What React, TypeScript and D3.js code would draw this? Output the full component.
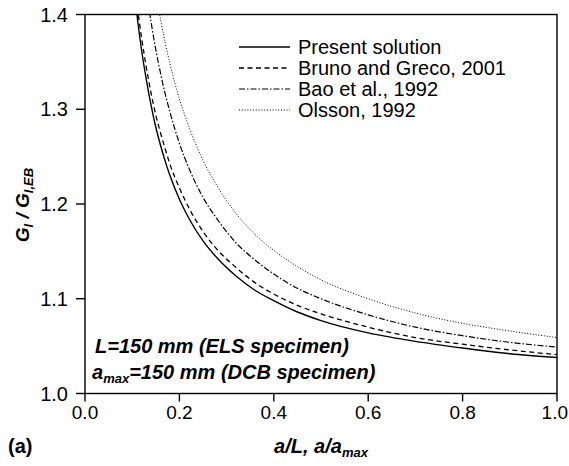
import React from "react";
import * as d3 from "d3";

const xs = [0.105, 0.11, 0.12, 0.13, 0.14, 0.15, 0.16, 0.17, 0.18, 0.2, 0.22, 0.25, 0.28, 0.32, 0.36, 0.4, 0.45, 0.5, 0.6, 0.7, 0.8, 0.9, 1.0];
const presentY = [1.422, 1.4, 1.362, 1.331, 1.304, 1.281, 1.262, 1.245, 1.23, 1.205, 1.185, 1.161, 1.143, 1.124, 1.109, 1.098, 1.086, 1.077, 1.064, 1.055, 1.048, 1.042, 1.038];
const brunoY = [1.435, 1.412, 1.375, 1.344, 1.317, 1.294, 1.275, 1.258, 1.242, 1.217, 1.196, 1.171, 1.152, 1.133, 1.117, 1.105, 1.093, 1.084, 1.07, 1.059, 1.052, 1.046, 1.041];
const baoX = [0.13, 0.14, 0.15, 0.16, 0.17, 0.18, 0.2, 0.22, 0.25, 0.28, 0.32, 0.36, 0.4, 0.45, 0.5, 0.6, 0.7, 0.8, 0.9, 1.0];
const baoY = [1.427, 1.392, 1.363, 1.338, 1.316, 1.297, 1.264, 1.238, 1.207, 1.184, 1.159, 1.141, 1.126, 1.111, 1.1, 1.083, 1.07, 1.061, 1.054, 1.049];
const olssonX = [0.15, 0.16, 0.17, 0.18, 0.2, 0.22, 0.25, 0.28, 0.32, 0.36, 0.4, 0.45, 0.5, 0.6, 0.7, 0.8, 0.9, 1.0];
const olssonY = [1.423, 1.395, 1.37, 1.348, 1.311, 1.282, 1.246, 1.219, 1.19, 1.168, 1.151, 1.134, 1.12, 1.1, 1.085, 1.074, 1.066, 1.059];

const xTicks = [0, 0.2, 0.4, 0.6, 0.8, 1.0];
const yTicks = [1.0, 1.1, 1.2, 1.3, 1.4];
const legendLabels = ["Present solution", "Bruno and Greco, 2001", "Bao et al., 1992", "Olsson, 1992"];

const FONT = "'Liberation Sans', Arial, sans-serif";

export default function App() {
  const W = 569, H = 466;
  const left = 85, right = 557, top = 14.5, bottom = 393.5;
  const x = d3.scaleLinear().domain([0, 1]).range([left, right]);
  const y = d3.scaleLinear().domain([1.0, 1.4]).range([bottom, top]);
  const line = d3.line<[number, number]>().x(d => x(d[0])).y(d => y(d[1])).curve(d3.curveMonotoneX);

  const series = [
    { pts: xs.map((v, i) => [v, presentY[i]] as [number, number]), dash: "none", w: 1.4 },
    { pts: xs.map((v, i) => [v, brunoY[i]] as [number, number]), dash: "5,3.5", w: 1.3 },
    { pts: baoX.map((v, i) => [v, baoY[i]] as [number, number]), dash: "6,2,1.5,2", w: 1.2 },
    { pts: olssonX.map((v, i) => [v, olssonY[i]] as [number, number]), dash: "1,1.8", w: 1.0 },
  ];
  const legendY = [47, 68, 89, 110];
  const FS = 20;
  const TFS = 19;
  const SUB = 13;

  return (
    <svg width={W} height={H} style={{ position: "absolute", left: 0, top: 0, background: "#fff" }} fontFamily={FONT}>
      <defs>
        <clipPath id="plot">
          <rect x={left} y={top} width={right - left} height={bottom - top} />
        </clipPath>
      </defs>
      <rect x={0} y={0} width={W} height={H} fill="#fff" />
      <g clipPath="url(#plot)">
        {series.map((s, i) => (
          <path key={i} d={line(s.pts) || ""} fill="none" stroke="#000" strokeWidth={s.w} strokeDasharray={s.dash} />
        ))}
      </g>
      <rect x={left} y={top} width={right - left} height={bottom - top} fill="none" stroke="#000" strokeWidth={1.4} />
      {xTicks.map(t => {
        const px = x(t);
        const last = px + 14 > W - 1;
        return (
          <g key={t}>
            <line x1={px} x2={px} y1={bottom} y2={bottom + 8} stroke="#000" strokeWidth={1.4} />
            <text x={last ? W - 1 : px} y={bottom + 25} textAnchor={last ? "end" : "middle"} fontSize={TFS}>{t.toFixed(1)}</text>
          </g>
        );
      })}
      {yTicks.map(t => (
        <g key={t}>
          <line x1={left - 9} x2={left} y1={y(t)} y2={y(t)} stroke="#000" strokeWidth={1.4} />
          <text x={left - 17} y={y(t) + 7} textAnchor="end" fontSize={FS}>{t.toFixed(1)}</text>
        </g>
      ))}
      {legendLabels.map((lab, i) => (
        <g key={lab}>
          <line x1={239} x2={290} y1={legendY[i]} y2={legendY[i]} stroke="#000" strokeWidth={series[i].w} strokeDasharray={series[i].dash} />
          <text x={298} y={legendY[i] + 7} fontSize={FS}>{lab}</text>
        </g>
      ))}
      <text x={95} y={353} fontSize={FS} fontWeight="bold" fontStyle="italic">L=150 mm (ELS specimen)</text>
      <text x={92} y={379} fontSize={FS} fontWeight="bold" fontStyle="italic">
        a<tspan fontSize={SUB} dy={4}>max</tspan><tspan dy={-4}>=150 mm (DCB specimen)</tspan>
      </text>
      <text x={321} y={453} textAnchor="middle" fontSize={FS} fontWeight="bold" fontStyle="italic">
        a/L, a/a<tspan fontSize={SUB} dy={4}>max</tspan>
      </text>
      <text x={8} y={453} fontSize={FS} fontWeight="bold">(a)</text>
      <text transform="translate(29,205) rotate(-90)" textAnchor="middle" fontSize={19} fontWeight="bold" fontStyle="italic">
        G<tspan fontSize={SUB} dy={4}>I</tspan><tspan dy={-4}> / G</tspan><tspan fontSize={SUB} dy={4}>I,EB</tspan>
      </text>
    </svg>
  );
}
